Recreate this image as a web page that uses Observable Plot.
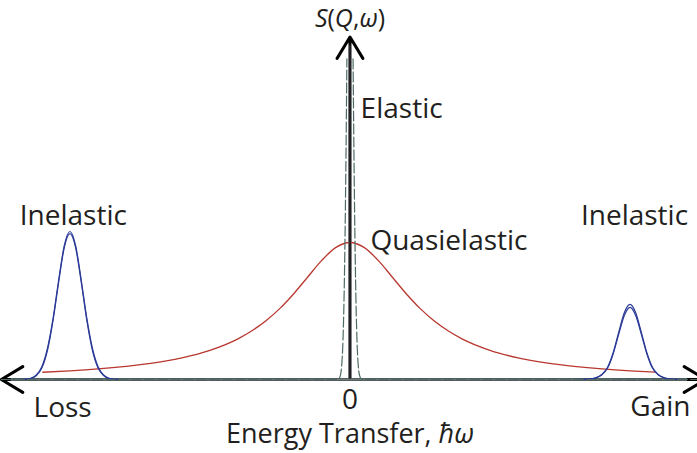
<!DOCTYPE html>
<html>
<head>
<meta charset="utf-8">
<script src="https://cdn.jsdelivr.net/npm/d3@7"></script>
<script src="https://cdn.jsdelivr.net/npm/@observablehq/plot@0.6"></script>
<style>
  body { margin: 0; background: #fff; }
  #chart svg { display: block; }
</style>
</head>
<body>
<div id="chart"></div>
<script>
// Schematic neutron-scattering spectrum S(Q,ω) versus energy transfer ħω (arbitrary units).

// Quasielastic (Lorentzian-like) line
const quasiX = [-10.97, -10, -9, -8, -7, -6, -5, -4, -3.5, -3, -2.5, -2, -1.5, -1, -0.5, 0,
                0.5, 1, 1.5, 2, 2.5, 3, 3.5, 4, 5, 6, 7, 8, 9, 10, 10.9];
const quasiY = [0.053, 0.063, 0.077, 0.096, 0.121, 0.158, 0.213, 0.297, 0.356, 0.429, 0.519, 0.628, 0.75, 0.871, 0.964, 1.0,
                0.964, 0.871, 0.75, 0.628, 0.519, 0.429, 0.356, 0.297, 0.213, 0.158, 0.121, 0.096, 0.077, 0.063, 0.054];

// Inelastic peak on the energy-loss side (two traces)
const lossX  = [-12.0, -11.6, -11.4, -11.2, -11.0, -10.8, -10.6, -10.4, -10.2, -10.0,
                -9.8, -9.6, -9.4, -9.2, -9.0, -8.8, -8.6, -8.4, -8.0];
const lossY1 = [0, 0.002, 0.009, 0.033, 0.095, 0.23, 0.45, 0.73, 0.98, 1.08,
                0.98, 0.73, 0.45, 0.23, 0.095, 0.033, 0.009, 0.002, 0];
const lossY2 = [0, 0.001, 0.007, 0.028, 0.085, 0.215, 0.435, 0.715, 0.965, 1.065,
                0.965, 0.715, 0.435, 0.215, 0.085, 0.028, 0.007, 0.001, 0];

// Inelastic peak on the energy-gain side (two traces)
const gainX  = [8.0, 8.4, 8.6, 8.8, 9.0, 9.2, 9.4, 9.6, 9.8, 10.0,
                10.2, 10.4, 10.6, 10.8, 11.0, 11.2, 11.4, 11.6, 12.0];
const gainY1 = [0, 0.001, 0.004, 0.014, 0.038, 0.089, 0.197, 0.348, 0.489, 0.548,
                0.489, 0.348, 0.197, 0.089, 0.038, 0.014, 0.004, 0.001, 0];
const gainY2 = [0, 0.001, 0.004, 0.013, 0.035, 0.084, 0.188, 0.333, 0.469, 0.527,
                0.469, 0.333, 0.188, 0.084, 0.035, 0.013, 0.004, 0.001, 0];

// Elastic line: very narrow, rising past the top of the frame
const elasticLeftX  = [-12.45, -0.5, -0.4, -0.35, -0.3, -0.25, -0.2, -0.15, -0.11];
const elasticLeftY  = [0, 0, 0.005, 0.024, 0.092, 0.286, 0.724, 1.49, 2.34];
const elasticRightX = [0.11, 0.15, 0.2, 0.25, 0.3, 0.35, 0.4, 0.5, 12.45];
const elasticRightY = [2.34, 1.49, 0.724, 0.286, 0.092, 0.024, 0.005, 0, 0];

// Axis extents (arrow tips)
const xAxisEnds = [-12.45, 12.7];
const yAxisTop = 2.5;

// Annotations
const labels = [
  {text: "S(Q,ω)", x: 0, y: 2.575, anchor: "middle", size: 25},
  {text: "Elastic", x: 0.38, y: 1.905, anchor: "start", size: 28},
  {text: "Inelastic", x: -9.88, y: 1.124, anchor: "middle", size: 28},
  {text: "Inelastic", x: 10.16, y: 1.124, anchor: "middle", size: 28},
  {text: "Quasielastic", x: 0.73, y: 0.942, anchor: "start", size: 28},
  {text: "Loss", x: -11.3, y: -0.277, anchor: "start", size: 28},
  {text: "0", x: 0, y: -0.212, anchor: "middle", size: 28},
  {text: "Gain", x: 12.16, y: -0.263, anchor: "end", size: 28},
  {text: "Energy Transfer, ħω", x: 0, y: -0.467, anchor: "middle", size: 27}
];

const toPoints = (xs, ys, series) => xs.map((x, i) => ({x, y: ys[i], series}));

const quasi = toPoints(quasiX, quasiY, "quasi");
const inelastic = [
  ...toPoints(lossX, lossY1, "loss1"), ...toPoints(lossX, lossY2, "loss2"),
  ...toPoints(gainX, gainY1, "gain1"), ...toPoints(gainX, gainY2, "gain2")
];
const elastic = [
  ...toPoints(elasticLeftX, elasticLeftY, "left"),
  ...toPoints(elasticRightX, elasticRightY, "right")
];
const axisArrows = [
  {x1: 0, y1: 0, x2: xAxisEnds[0], y2: 0},
  {x1: 0, y1: 0, x2: xAxisEnds[1], y2: 0},
  {x1: 0, y1: 0, x2: 0, y2: yAxisTop}
];

const textColor = "#231f20";
const textFor = (anchor, size) => Plot.text(labels.filter(d => d.anchor === anchor && d.size === size), {
  x: "x", y: "y", text: "text", textAnchor: anchor, lineAnchor: "bottom",
  fill: textColor, fontSize: size
});

const chart = Plot.plot({
  width: 697,
  height: 453,
  margin: 0,
  style: {fontFamily: "'Open Sans', 'DejaVu Sans', sans-serif", background: "#fff"},
  x: {domain: [-12.48, 12.41], axis: null},
  y: {domain: [-0.540, 2.766], axis: null},
  marks: [
    // axes with open arrowheads
    Plot.arrow(axisArrows, {x1: "x1", y1: "y1", x2: "x2", y2: "y2",
      stroke: "#000", strokeWidth: 3, headLength: 12.5, headAngle: 62}),
    Plot.ruleY([0], {x1: xAxisEnds[0] + 0.35, x2: xAxisEnds[1] - 0.65, stroke: "#6f7c7b", strokeWidth: 2.6}),
    // quasielastic line
    Plot.line(quasi, {x: "x", y: "y", stroke: "#b8372f", strokeWidth: 1.3, curve: "monotone-x"}),
    // vertical axis shaft
    Plot.ruleX([0], {y1: 0, y2: yAxisTop - 0.06, stroke: "#26262e", strokeWidth: 1.7}),
    // inelastic peaks
    Plot.line(inelastic, {x: "x", y: "y", z: "series", stroke: "#2b3a98", strokeWidth: 1.2, curve: "monotone-x"}),
    // elastic line (dashed)
    Plot.line(elastic, {x: "x", y: "y", z: "series", stroke: "#4d6a66", strokeWidth: 1.2,
      strokeDasharray: "10,3", curve: "monotone-x"}),
    // annotations
    textFor("middle", 28),
    textFor("middle", 27),
    textFor("middle", 25),
    textFor("start", 28),
    textFor("end", 28)
  ]
});

// Set the symbols S, Q, ω and ħω in italic
d3.select(chart).selectAll("text").each(function () {
  const t = this.textContent;
  const parts = t === "S(Q,ω)"
    ? [["S", true], ["(", false], ["Q", true], [",", false], ["ω", true], [")", false]]
    : t === "Energy Transfer, ħω"
      ? [["Energy Transfer, ", false], ["ħω", true]]
      : null;
  if (!parts) return;
  const el = d3.select(this).text("");
  for (const [s, it] of parts) {
    el.append("tspan").attr("font-style", it ? "italic" : null).text(s);
  }
});

document.getElementById("chart").append(chart);
</script>
</body>
</html>
